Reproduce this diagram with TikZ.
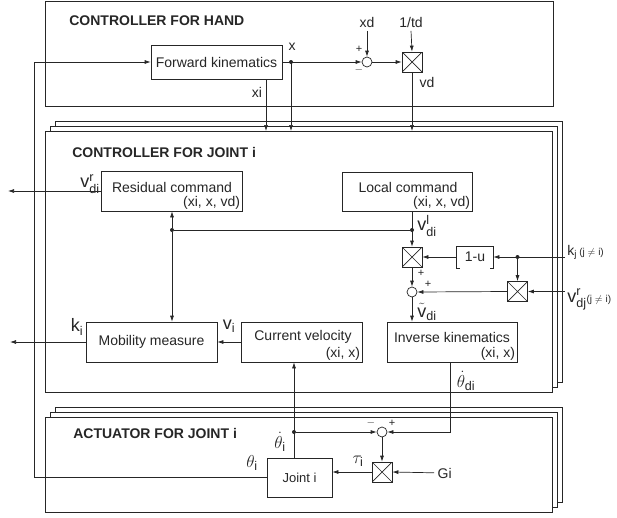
\documentclass[tikz,border=0pt]{standalone}
\usepackage{amsmath}
\usepackage{fontspec}
\setmainfont{Liberation Sans}
\usetikzlibrary{positioning}
\usetikzlibrary{arrows.meta}
\usetikzlibrary{calc}

\begin{document}
\begin{tikzpicture}[x=1pt,y=-1pt,>={Latex[length=6pt,width=4pt]},line width=0.7pt,color=black!85,
  font=\fontsize{14}{16}\selectfont,
  box node/.style={draw,rectangle,inner sep=0pt},
  frame line/.style={draw,fill=white},
  mult node/.style={draw,rectangle,minimum size=20pt,inner sep=0pt,
    path picture={\draw (path picture bounding box.north west) -- (path picture bounding box.south east)
      (path picture bounding box.south west) -- (path picture bounding box.north east);}},
  sum node/.style={draw,circle,minimum size=10pt,inner sep=0pt},
  dot node/.style={circle,fill,minimum size=4pt,inner sep=0pt},
  arg node/.style={anchor=south east,inner sep=2pt},
  var node/.style={font=\fontsize{18}{20}\selectfont,inner sep=0pt},
  sign node/.style={font=\fontsize{11}{12}\selectfont,inner sep=0pt},
  title node/.style={anchor=west,inner sep=0pt,font=\fontsize{14}{16}\selectfont\bfseries}]
  \useasboundingbox (0,0) rectangle (617,517);

  % controller for hand
  \draw[frame line] (45,1.5) rectangle (553,106);
  \node[title node] (hand-t) at (69,21) {CONTROLLER FOR HAND};
  \node[box node,minimum width=131pt,minimum height=34pt] (fk) at (216.5,62) {Forward kinematics};
  \node[dot node] (xdot) at (291,62) {};
  \node[sum node] (s1) at (367,62) {};
  \node[mult node] (m1) at (412,62) {};
  \node (xd) at (367,22) {xd};
  \node (td) at (411,22) {1/td};
  \node (x) at (292,47) {x};
  \node (xi) at (257,92) {xi};
  \node (vd) at (427,82) {vd};
  \node[sign node] (s1-p) at (359,49) {+};
  \node[sign node] (s1-m) at (359,70) {$-$};

  % controller for joint i
  \foreach \d in {10,5,0}
    \draw[frame line] (45+\d,131-\d) rectangle (552+\d,392-\d);
  \node[title node] (joint-t) at (72,152) {CONTROLLER FOR JOINT i};
  \coordinate (jtop) at (0,131);

  \node[box node,minimum width=141pt,minimum height=40pt] (res) at (171.5,191) {};
  \node (res-t) at (172,187) {Residual command};
  \node[arg node] (res-a) at (res.south east) {(xi, x, vd)};
  \node[box node,minimum width=130pt,minimum height=39pt] (loc) at (407,191.5) {};
  \node (loc-t) at (408,187) {Local command};
  \node[arg node] (loc-a) at (loc.south east) {(xi, x, vd)};
  \node[box node,minimum width=131pt,minimum height=40pt] (mob) at (151.5,342) {Mobility measure};
  \node[box node,minimum width=121pt,minimum height=40pt] (cur) at (301.5,342) {};
  \node (cur-t) at (303,337) {Current velocity};
  \node[arg node] (cur-a) at (cur.south east) {(xi, x)};
  \node[box node,minimum width=130pt,minimum height=40pt] (ik) at (452,342) {};
  \node (ik-t) at (452,337) {Inverse kinematics};
  \node[arg node] (ik-a) at (ik.south east) {(xi, x)};

  \node[mult node] (m2) at (412,257) {};
  \node[sum node] (s2) at (412,292) {};
  \node[mult node] (m3) at (517.5,291.5) {};
  \node[minimum width=36pt,minimum height=21pt,inner sep=0pt] (omu) at (475,257) {1-u};
  \draw ([xshift=3pt]omu.south west) -- (omu.south west) -- (omu.north west)
    -- (omu.north east) -- (omu.south east) -- ([xshift=-3pt]omu.south east);
  \node[dot node] (ldot) at (412,230) {};
  \node[dot node] (rdot) at (172,230) {};
  \node[dot node] (kdot) at (517.5,257) {};
  \coordinate (kj) at (565,257);
  \coordinate (vj) at (565,291.5);
  \coordinate (resout) at (8,191);
  \coordinate (mobout) at (10,342);

  \node[var node] (vr-di) at (90,184) {$\text{v}^{\text{r}}_{\text{di}}$};
  \node[var node] (k-i) at (77,327) {$\text{k}_{\text{i}}$};
  \node[var node] (v-i) at (229,326) {$\text{v}_{\text{i}}$};
  \node[var node] (vl-di) at (427,226) {$\text{v}^{\text{l}}_{\text{di}}$};
  \node[var node] (vt-di) at (427,312) {$\tilde{\text{v}}_{\text{di}}$};
  \node[var node] (thd-di) at (466,381) {$\dot{\theta}_{\text{di}}$};
  \node[anchor=base west,inner sep=0pt] (kj-l) at (567,255.5)
    {$\text{k}_{\text{j}}$\,{\fontsize{10}{12}\selectfont(j $\neq$ i)}};
  \node[var node,anchor=base west] (vj-l) at (567,302)
    {$\text{v}^{\text{r}}_{\text{dj}}${\fontsize{10}{12}\selectfont(j $\neq$ i)}};
  \node[sign node] (s2-p1) at (421,273) {+};
  \node[sign node] (s2-p2) at (428,284) {+};

  % actuator for joint i
  \foreach \d in {10,5,0}
    \draw[frame line] (45+\d,417-\d) rectangle (552+\d,512-\d);
  \node[title node] (act-t) at (73,433) {ACTUATOR FOR JOINT i};
  \node[box node,minimum width=65pt,minimum height=39pt,font=\fontsize{13}{15}\selectfont] (joint) at (299.5,477.5) {Joint i};
  \node[sum node] (s3) at (382,432) {};
  \node[mult node] (m4) at (382,472) {};
  \node[dot node] (adot) at (294,432) {};
  \node[anchor=west] (gi) at (434,473) {Gi};
  \coordinate (fb) at (34,62);
  \node[var node] (thd-i) at (280,442) {$\dot{\theta}_{\text{i}}$};
  \node[var node] (th-i) at (252,463) {$\theta_{\text{i}}$};
  \node[var node] (tau-i) at (358,461) {$\tau_{\text{i}}$};
  \node[sign node] (s3-m) at (371,423) {$-$};
  \node[sign node] (s3-p) at (392,423) {+};

  % connections
  \draw[->] (joint.west) -| (fb) -- (fk.west);
  \draw[->] (fk.east) -- (s1.west);
  \draw[->] (s1.east) -- (m1.west);
  \draw[->] (xd.south) -- (s1.north);
  \draw[->] (td.south) -- (m1.north);
  \draw[->] (xdot.center) -- (xdot |- jtop);
  \draw[->] ([xshift=49.5pt]fk.south) coordinate (xiout) -- (xiout |- jtop);
  \draw[->] (m1.south) -- (m1 |- jtop);

  \draw[->] (res.west) -- (resout);
  \draw[->] (mob.west) -- (mobout);
  \draw[->] (loc.south -| m2) -- (m2.north);
  \draw (ldot) -- (rdot);
  \draw[->] (rdot) -- (res.south -| rdot);
  \draw[->] (rdot) -- (mob.north -| rdot);
  \draw[->] (cur.west) -- (mob.east);
  \draw[->] (m2.south) -- (s2.north);
  \draw[->] (omu.west) -- (m2.east);
  \draw[->] (kj) -- (omu.east);
  \draw[->] (kdot) -- (m3.north);
  \draw[->] (vj) -- (m3.east);
  \draw[->] (m3.west) -- (s2.east);
  \draw[->] (s2.south) -- (ik.north -| s2);

  \draw[->] ([xshift=-2pt]ik.south) |- (s3.east);
  \draw[->] (joint.north -| adot) -- (cur.south -| adot);
  \draw[->] (adot) -- (s3.west);
  \draw[->] (s3.south) -- (m4.north);
  \draw[->] (gi) -- (m4.east);
  \draw[->] (m4.west) -- (m4.west -| joint.east);
\end{tikzpicture}
\end{document}
